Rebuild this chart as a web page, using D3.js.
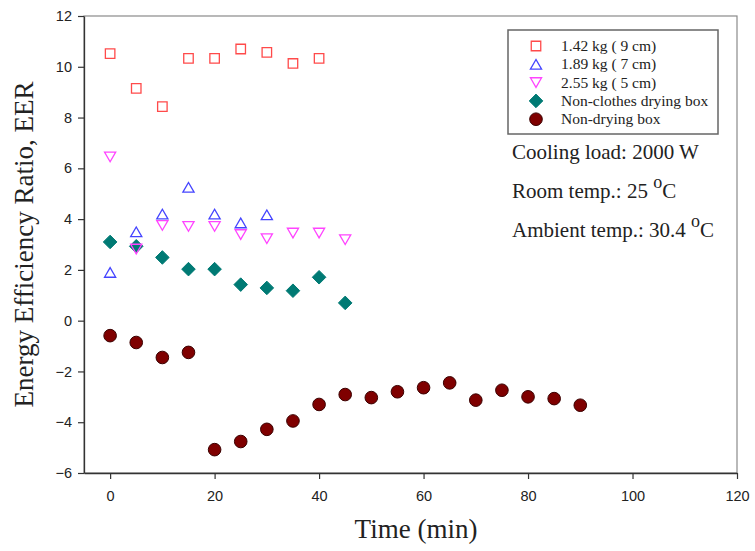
<!DOCTYPE html>
<html>
<head>
<meta charset="utf-8">
<script src="https://cdn.jsdelivr.net/npm/d3@7"></script>
<style>
  body { margin: 0; background: #fff; }
  svg { display: block; }
</style>
</head>
<body>
<svg id="chart" width="755" height="551"></svg>
<script>
// ---- Data ----
const timesA = [0, 5, 10, 15, 20, 25, 30, 35, 40];
const eer142 = [10.52, 9.15, 8.43, 10.33, 10.33, 10.70, 10.57, 10.13, 10.33];

const timesB = [0, 5, 10, 15, 20, 25, 30];
const eer189 = [1.9, 3.5, 4.2, 5.25, 4.2, 3.85, 4.17];

const timesC = [0, 5, 10, 15, 20, 25, 30, 35, 40, 45];
const eer255 = [6.45, 2.82, 3.75, 3.71, 3.71, 3.39, 3.23, 3.45, 3.45, 3.19];

const timesD = [0, 5, 10, 15, 20, 25, 30, 35, 40, 45];
const eerNoClothes = [3.1, 2.93, 2.49, 2.03, 2.03, 1.42, 1.29, 1.18, 1.71, 0.70];

const timesE = [0, 5, 10, 15, 20, 25, 30, 35, 40, 45, 50, 55, 60, 65, 70, 75, 80, 85, 90];
const eerNoDrying = [-0.59, -0.86, -1.45, -1.25, -5.08, -4.76, -4.28, -3.95, -3.30, -2.91, -3.03, -2.80, -2.64, -2.45, -3.13, -2.74, -3.00, -3.07, -3.33];

const xTicks = [0, 20, 40, 60, 80, 100, 120];
const yTicks = [-6, -4, -2, 0, 2, 4, 6, 8, 10, 12];

const legendLabels = ["1.42 kg ( 9 cm)", "1.89 kg ( 7 cm)", "2.55 kg ( 5 cm)", "Non-clothes drying box", "Non-drying box"];

// ---- Layout ----
const svg = d3.select("#chart");
const L = 84, R = 737, T = 16, B = 473;
const x = d3.scaleLinear().domain([-5, 120]).range([L, R]);
const y = d3.scaleLinear().domain([-6, 12]).range([B, T]);

const serif = "'Liberation Serif', 'Times New Roman', serif";
const sans = "'Liberation Sans', Arial, sans-serif";

// frame (top/right)
svg.append("rect").attr("x", L).attr("y", T).attr("width", R - L).attr("height", B - T)
  .attr("fill", "none").attr("stroke", "#8a8a8a").attr("stroke-width", 1.2);

// axes
const xAxis = svg.append("g").attr("transform", `translate(0,${B})`)
  .call(d3.axisBottom(x).tickValues(xTicks).tickSize(6).tickPadding(12).tickSizeOuter(0));
const yAxis = svg.append("g").attr("transform", `translate(${L},0)`)
  .call(d3.axisLeft(y).tickValues(yTicks).tickSize(6).tickPadding(6).tickSizeOuter(0));
[xAxis, yAxis].forEach(g => {
  g.select(".domain").attr("stroke", "#333").attr("stroke-width", 1.3);
  g.selectAll(".tick line").attr("stroke", "#333").attr("stroke-width", 1.2);
  g.selectAll(".tick text").attr("font-family", sans).attr("font-size", 14.5).attr("fill", "#222");
});

// axis titles
svg.append("text").attr("x", 416).attr("y", 538)
  .attr("text-anchor", "middle").attr("font-family", serif).attr("font-size", 27).attr("fill", "#222")
  .text("Time (min)");
svg.append("text").attr("transform", `translate(33,${(T + B) / 2}) rotate(-90)`)
  .attr("text-anchor", "middle").attr("font-family", serif).attr("font-size", 27).attr("fill", "#222")
  .text("Energy Efficiency Ratio, EER");

// ---- markers ----
const sym = (type, size) => d3.symbol().type(type).size(size)();
const triDown = {
  draw(ctx, size) {
    const s = Math.sqrt(size / (Math.sqrt(3) / 4));
    const h = s * Math.sqrt(3) / 2;
    ctx.moveTo(-s / 2, -h / 2); ctx.lineTo(s / 2, -h / 2); ctx.lineTo(0, h / 2); ctx.closePath();
  }
};
const triUp = {
  draw(ctx, size) {
    const s = Math.sqrt(size / (Math.sqrt(3) / 4));
    const h = s * Math.sqrt(3) / 2;
    ctx.moveTo(-s / 2, h / 2); ctx.lineTo(s / 2, h / 2); ctx.lineTo(0, -h / 2); ctx.closePath();
  }
};
const diamond = {
  draw(ctx, size) {
    const r = Math.sqrt(size / 2);
    ctx.moveTo(0, -r); ctx.lineTo(r, 0); ctx.lineTo(0, r); ctx.lineTo(-r, 0); ctx.closePath();
  }
};

const series = [
  { t: timesE, v: eerNoDrying, path: sym(d3.symbolCircle, 125), fill: "#7f0000", stroke: "#3a0000", sw: 1 },
  { t: timesD, v: eerNoClothes, path: sym(diamond, 92), fill: "#007a74", stroke: "#007a74", sw: 1 },
  { t: timesC, v: eer255, path: sym(triDown, 54), fill: "none", stroke: "#ff44ff", sw: 1.3 },
  { t: timesB, v: eer189, path: sym(triUp, 54), fill: "none", stroke: "#4444ff", sw: 1.3 },
  { t: timesA, v: eer142, path: sym(d3.symbolSquare, 90), fill: "none", stroke: "#ff4a4a", sw: 1.3 },
];

series.forEach(s => {
  svg.append("g").selectAll("path").data(s.t.map((t, i) => [t, s.v[i]])).join("path")
    .attr("d", s.path)
    .attr("transform", d => `translate(${x(d[0])},${y(d[1])})`)
    .attr("fill", s.fill).attr("stroke", s.stroke).attr("stroke-width", s.sw);
});

// ---- legend ----
svg.append("rect").attr("x", 508).attr("y", 30).attr("width", 210).attr("height", 104)
  .attr("fill", "#fff").attr("stroke", "#666").attr("stroke-width", 1.5);
const legendSeries = [series[4], series[3], series[2], series[1], series[0]];
legendLabels.forEach((lab, i) => {
  const yy = 46 + i * 18.3;
  const s = legendSeries[i];
  svg.append("path").attr("d", s.path).attr("transform", `translate(536,${yy})`)
    .attr("fill", s.fill).attr("stroke", s.stroke).attr("stroke-width", s.sw);
  svg.append("text").attr("x", 561).attr("y", yy + 5).attr("font-family", serif)
    .attr("font-size", 15.5).attr("fill", "#222").text(lab);
});

// ---- annotations ----
const ann = svg.append("g").attr("font-family", serif).attr("font-size", 21).attr("fill", "#222");
ann.append("text").attr("x", 512).attr("y", 159).text("Cooling load: 2000 W");
const t2 = ann.append("text").attr("x", 512).attr("y", 198);
t2.append("tspan").text("Room temp.: 25 ");
t2.append("tspan").attr("dy", -10).attr("font-size", 18).text("o");
t2.append("tspan").attr("dy", 10).text("C");
const t3 = ann.append("text").attr("x", 512).attr("y", 237);
t3.append("tspan").text("Ambient temp.: 30.4 ");
t3.append("tspan").attr("dy", -10).attr("font-size", 18).text("o");
t3.append("tspan").attr("dy", 10).text("C");
</script>
</body>
</html>
